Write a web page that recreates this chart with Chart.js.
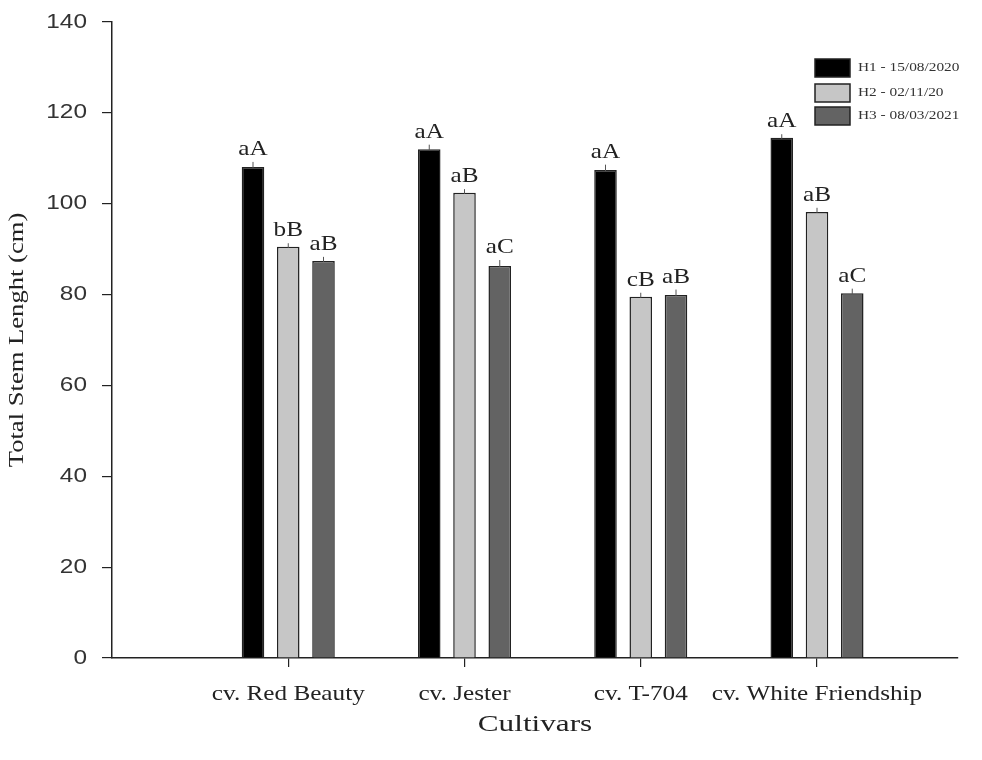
<!DOCTYPE html>
<html>
<head>
<meta charset="utf-8">
<script src="https://cdn.jsdelivr.net/npm/chart.js@4.4.1/dist/chart.umd.min.js"></script>
<style>
  body { margin: 0; background: #fff; }
  #wrap { width: 982px; height: 760px; }
</style>
</head>
<body>
<div id="wrap"><canvas id="stemChart" width="982" height="760"></canvas></div>
<script>
const cultivars = ["cv. Red Beauty", "cv. Jester", "cv. T-704", "cv. White Friendship"];
const harvests = ["H1 - 15/08/2020", "H2 - 02/11/20", "H3 - 08/03/2021"];
const h1Values = [108.1, 112.0, 107.4, 114.5];
const h2Values = [90.5, 102.4, 79.5, 98.2];
const h3Values = [87.4, 86.3, 79.9, 80.3];
const h1Errors = [1.1, 1.0, 1.2, 0.8];
const h2Errors = [0.8, 0.8, 0.9, 0.9];
const h3Errors = [0.9, 1.3, 1.2, 1.0];
const h1Letters = ["aA", "aA", "aA", "aA"];
const h2Letters = ["bB", "aB", "cB", "aB"];
const h3Letters = ["aB", "aC", "aB", "aC"];
const yTicks = [0, 20, 40, 60, 80, 100, 120, 140];

const barColors = ["#000000", "#c6c6c6", "#636363"];
const serif = "'Liberation Serif', 'Times New Roman', serif";
const sans = "'Liberation Sans', Arial, sans-serif";

function toPoints(values) {
    return values.map((v, i) => ({ x: i + 1, y: v }));
}

const errorSets = [h1Errors, h2Errors, h3Errors];
const letterSets = [h1Letters, h2Letters, h3Letters];

// the original figure uses wide-looking type, so text is drawn stretched
function wideText(ctx, text, x, y, font, sx, align, baseline, angle) {
    ctx.save();
    ctx.translate(x, y);
    if (angle) ctx.rotate(angle);
    ctx.scale(sx, 1);
    ctx.font = font;
    ctx.textAlign = align;
    ctx.textBaseline = baseline;
    ctx.fillText(text, 0, 0);
    ctx.restore();
}

// error ticks + significance letters above each bar
const annotatePlugin = {
    id: "annotate",
    afterDatasetsDraw(chart) {
        const ctx = chart.ctx;
        const yScale = chart.scales.y;
        ctx.save();
        chart.data.datasets.forEach((ds, d) => {
            const meta = chart.getDatasetMeta(d);
            meta.data.forEach((bar, i) => {
                const v = ds.data[i].y;
                const top = yScale.getPixelForValue(v + errorSets[d][i]);
                ctx.strokeStyle = "#555";
                ctx.lineWidth = 1;
                ctx.beginPath();
                ctx.moveTo(bar.x, bar.y + 1);
                ctx.lineTo(bar.x, top);
                ctx.stroke();
                ctx.fillStyle = "#222";
                wideText(ctx, letterSets[d][i], bar.x, top - 2, "21px " + serif, 1.2, "center", "bottom");
            });
        });
        ctx.restore();
    }
};

// tick labels, axis titles and legend
const textPlugin = {
    id: "texts",
    afterDraw(chart) {
        const ctx = chart.ctx;
        const xs = chart.scales.x, ys = chart.scales.y;
        ctx.save();
        ctx.fillStyle = "#333";
        yTicks.forEach(v => {
            wideText(ctx, String(v), 87, ys.getPixelForValue(v), "20px " + sans, 1.22, "right", "middle");
        });
        ctx.fillStyle = "#222";
        cultivars.forEach((c, i) => {
            wideText(ctx, c, xs.getPixelForValue(i + 1), 700, "21px " + serif, 1.2, "center", "alphabetic");
        });
        wideText(ctx, "Cultivars", (xs.left + xs.right) / 2, 731, "24px " + serif, 1.3, "center", "alphabetic");
        wideText(ctx, "Total Stem Lenght (cm)", 18, (ys.top + ys.bottom) / 2, "20px " + serif, 1.33, "center", "middle", -Math.PI / 2);

        const rows = [59, 84, 107];
        harvests.forEach((label, i) => {
            ctx.fillStyle = barColors[i];
            ctx.strokeStyle = "#222";
            ctx.lineWidth = 1.5;
            ctx.fillRect(815, rows[i], 35, 18);
            ctx.strokeRect(815, rows[i], 35, 18);
            ctx.fillStyle = "#333";
            wideText(ctx, label, 858, rows[i] + 9, "13px " + serif, 1.18, "left", "middle");
        });
        ctx.restore();
    }
};

new Chart(document.getElementById("stemChart"), {
    type: "bar",
    data: {
        datasets: harvests.map((h, i) => ({
            label: h,
            data: toPoints([h1Values, h2Values, h3Values][i]),
            backgroundColor: barColors[i],
            borderColor: "#222",
            borderWidth: 1.5,
            categoryPercentage: 0.6,
            barPercentage: 0.64
        }))
    },
    options: {
        responsive: false,
        animation: false,
        layout: { padding: { top: 22, right: 24, left: 0, bottom: 0 } },
        plugins: { legend: { display: false }, tooltip: { enabled: false } },
        scales: {
            x: {
                type: "linear",
                min: 0,
                max: 4.8,
                offset: false,
                afterBuildTicks: scale => { scale.ticks = cultivars.map((c, i) => ({ value: i + 1 })); },
                afterFit: scale => { scale.height = 102; },
                ticks: { display: false },
                grid: { offset: false, drawOnChartArea: false, drawTicks: true, tickLength: 9, color: "#222", lineWidth: 1.2 },
                border: { display: true, color: "#222", width: 1.5 }
            },
            y: {
                min: 0,
                max: 140,
                afterBuildTicks: scale => { scale.ticks = yTicks.map(v => ({ value: v })); },
                afterFit: scale => { scale.width = 112; },
                ticks: { display: false },
                grid: { drawOnChartArea: false, drawTicks: true, tickLength: 10, color: "#222", lineWidth: 1.2 },
                border: { display: true, color: "#222", width: 1.5 }
            }
        }
    },
    plugins: [annotatePlugin, textPlugin]
});
</script>
</body>
</html>
